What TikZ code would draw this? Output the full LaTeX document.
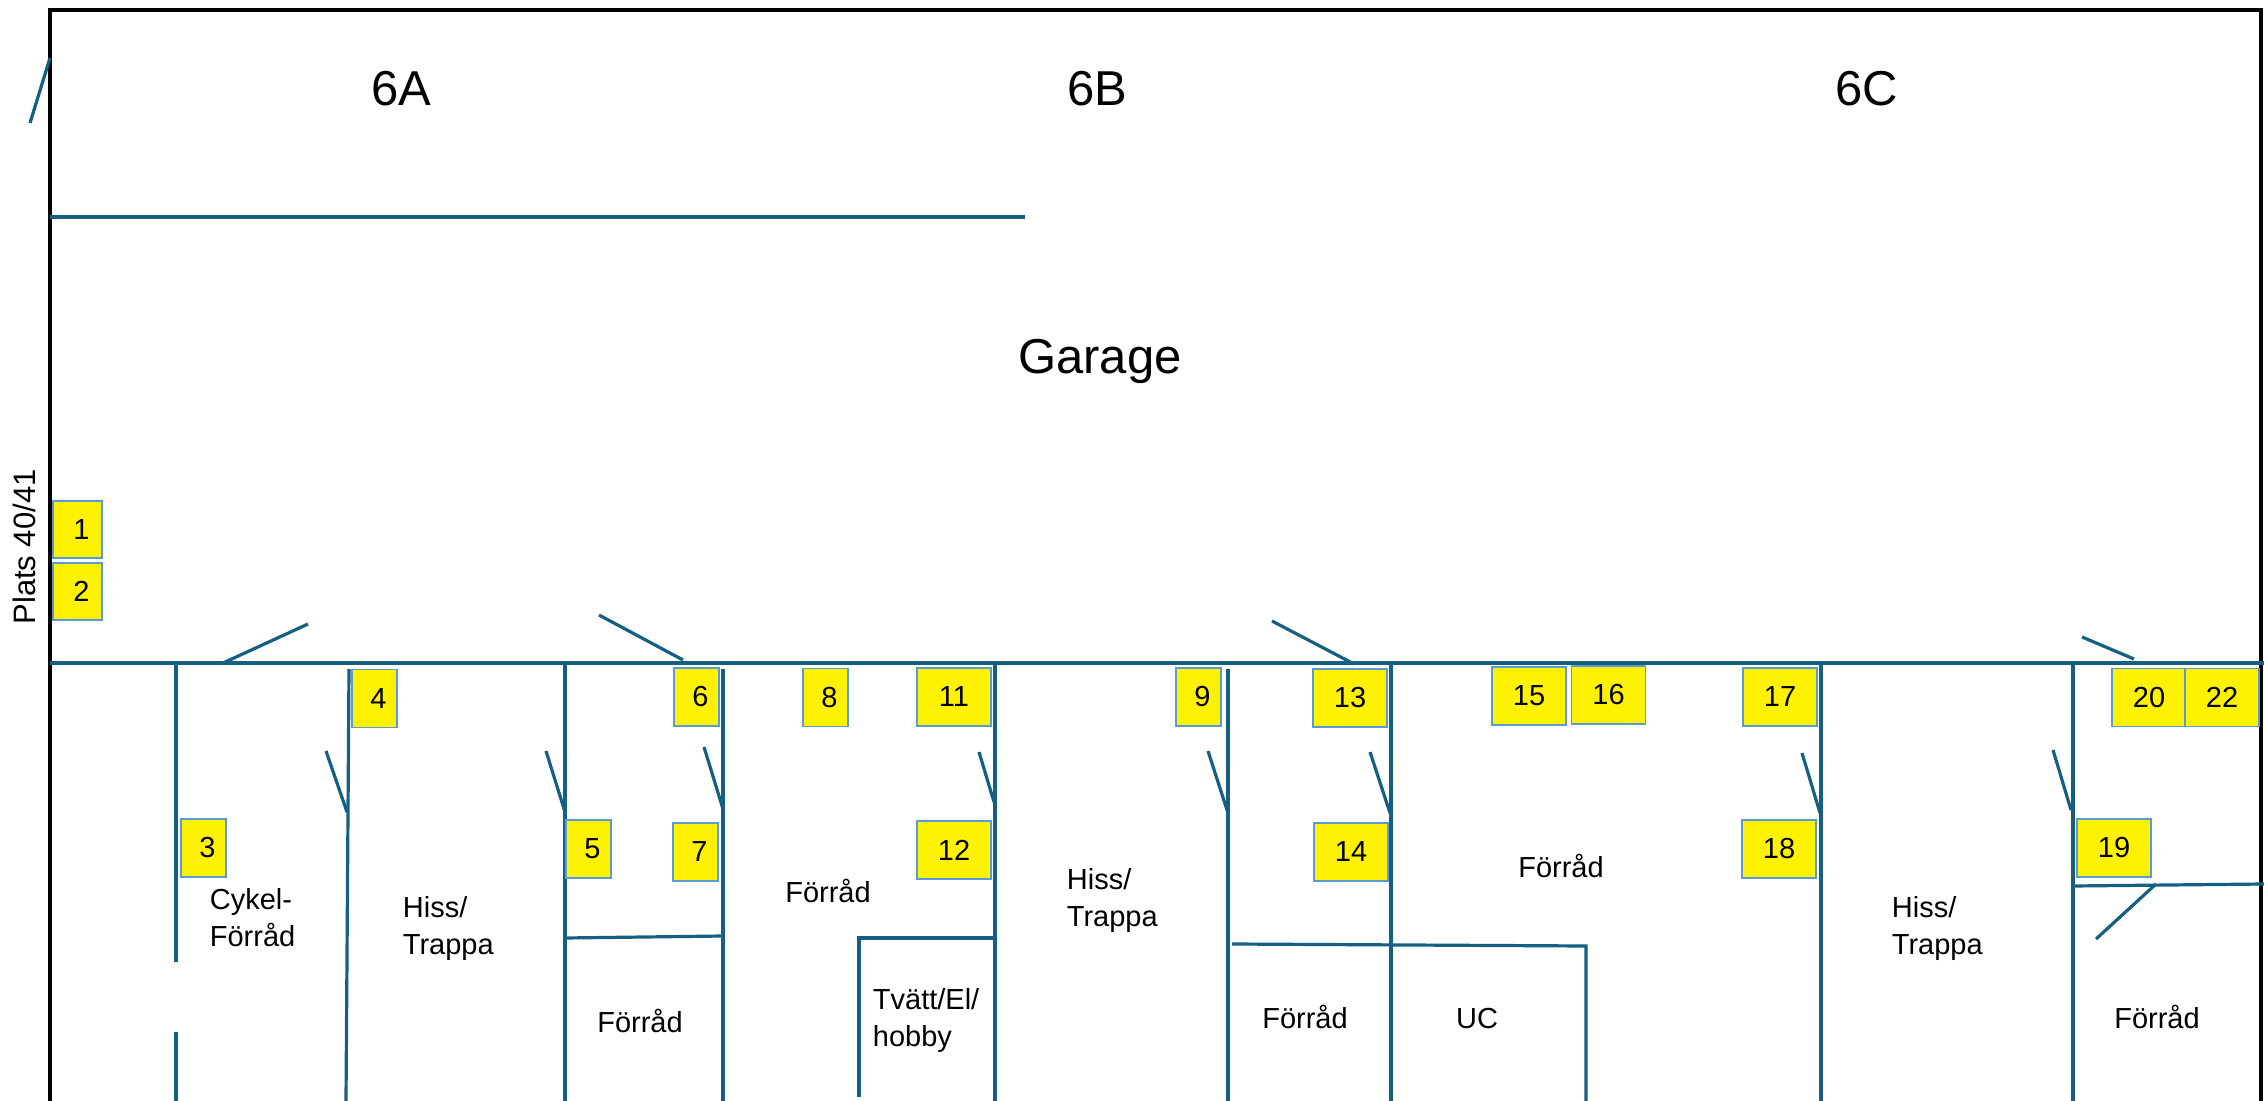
\documentclass[tikz,border=0pt]{standalone}
\usepackage{fontspec}
\setmainfont{Liberation Sans}
\definecolor{wallblue}{RGB}{21,96,130}
\definecolor{boxline}{RGB}{91,155,213}

\begin{document}
\begin{tikzpicture}[x=0.5pt,y=0.5pt,yscale=-1,xscale=1,
  wall/.style={color=wallblue, line width=1.6pt},
  outerframe/.style={color=black, line width=2pt},
  numbox/.style={draw=boxline, fill=yellow, line width=0.75pt, inner sep=0pt, minimum width=22.5pt, minimum height=29pt, font=\fontsize{14.5}{17}\selectfont, execute at begin node={\hspace*{4pt}}},
  numboxw/.style={draw=boxline, fill=yellow, line width=0.75pt, inner sep=0pt, minimum width=37pt, minimum height=29pt, font=\fontsize{14.5}{17}\selectfont},
  room/.style={inner sep=0.75pt, align=left, font=\fontsize{14.5}{18.5}\selectfont},
  biglabel/.style={inner sep=0.75pt, font=\fontsize{24.5}{29}\selectfont}]
\useasboundingbox (0,0) rectangle (2264,1101);

%Frame
\draw [outerframe] (50,1101) -- (50,10) -- (2261,10) -- (2261,1101) ;

%Straight Lines: garage walls
\draw [wall] (50,58) -- (30,123) ;
\draw [wall] (50,217) -- (1025,217) ;
\draw [wall] (50,663) -- (2264,663) ;
%Straight Lines: garage doors
\draw [wall] (223,663) -- (308,624) ;
\draw [wall] (599,615) -- (683,660) ;
\draw [wall] (1272,621) -- (1354,664) ;
\draw [wall] (2082,637) -- (2134,659) ;

%Straight Lines: room walls
\draw [wall] (176,663) -- (176,962) ;
\draw [wall] (176,1032) -- (176,1101) ;
\draw [wall] (349,669) -- (346,1101) ;
\draw [wall] (565,663) -- (565,1101) ;
\draw [wall] (723,669) -- (723,1101) ;
\draw [wall] (995,663) -- (995,1101) ;
\draw [wall] (1228,669) -- (1228,1101) ;
\draw [wall] (1391,663) -- (1391,1101) ;
\draw [wall] (1821,663) -- (1821,1101) ;
\draw [wall] (2073,663) -- (2073,1101) ;
%Straight Lines: room doors
\draw [wall] (326,751) -- (347,812) ;
\draw [wall] (546,751) -- (565,812) ;
\draw [wall] (704,747) -- (723,809) ;
\draw [wall] (979,752) -- (994,802) ;
\draw [wall] (1208,751) -- (1228,813) ;
\draw [wall] (1370,752) -- (1390,813) ;
\draw [wall] (1802,753) -- (1820,813) ;
\draw [wall] (2053,750) -- (2071,810) ;
%Straight Lines: inner walls
\draw [wall] (565,938) -- (723,936) ;
\draw [wall] (859,1097) -- (859,938) -- (995,938) ;
\draw [wall] (1232,944) -- (1586,946) -- (1586,1101) ;
\draw [wall] (2073,886) -- (2264,884) ;
\draw [wall] (2156,884) -- (2096,939) ;

% Text Node
\node (lab6A) [biglabel] at (401,89) {6A};
\node (lab6B) [biglabel] at (1097,89) {6B};
\node (lab6C) [biglabel] at (1867,89) {6C};
\node (garage) [biglabel] at (1100,361) {Garage};
\node (plats) [inner sep=0.75pt, rotate=90, font=\fontsize{15.5}{18}\selectfont] at (24,547) {Plats 40/41};

% Text Node: rooms
\node (cykel) [room, anchor=west] at (208,918) {Cykel-\\Förråd};
\node (hissA) [room, anchor=west] at (401,928) {Hiss/\\Trappa};
\node (forradA) [room] at (640,1021) {Förråd};
\node (forradB) [room] at (828,891) {Förråd};
\node (tvatt) [room, anchor=west] at (871,1020) {Tvätt/El/\\hobby};
\node (hissB) [room, anchor=west] at (1065,900) {Hiss/\\Trappa};
\node (forradC) [room] at (1305,1017) {Förråd};
\node (uc) [room] at (1477,1019) {UC};
\node (forradD) [room] at (1561,866) {Förråd};
\node (hissC) [room, anchor=west] at (1890,928) {Hiss/\\Trappa};
\node (forradE) [room] at (2157,1017) {Förråd};

% Number boxes
\node (n1) [numbox, minimum width=24.5pt, minimum height=28.5pt] at (77.5,529.5) {1};
\node (n2) [numbox, minimum width=24.5pt, minimum height=28.5pt] at (77.5,591.5) {2};
\node (n3) [numbox] at (203.5,848) {3};
\node (n4) [numbox] at (374.5,698.5) {4};
\node (n5) [numbox] at (588.5,849) {5};
\node (n6) [numbox] at (696.5,697) {6};
\node (n7) [numbox] at (695.5,852) {7};
\node (n8) [numbox] at (825.5,697.5) {8};
\node (n11) [numboxw] at (954,697) {11};
\node (n12) [numboxw] at (954,850) {12};
\node (n9) [numbox] at (1198.5,697) {9};
\node (n13) [numboxw] at (1350,698) {13};
\node (n14) [numboxw] at (1351,852) {14};
\node (n15) [numboxw] at (1529,696) {15};
\node (n16) [numboxw] at (1608.5,695) {16};
\node (n17) [numboxw] at (1780,697) {17};
\node (n18) [numboxw] at (1779,849) {18};
\node (n19) [numboxw] at (2114,848) {19};
\node (n20) [numboxw] at (2149,697.5) {20};
\node (n22) [numboxw] at (2222,697.5) {22};

\end{tikzpicture}
\end{document}
